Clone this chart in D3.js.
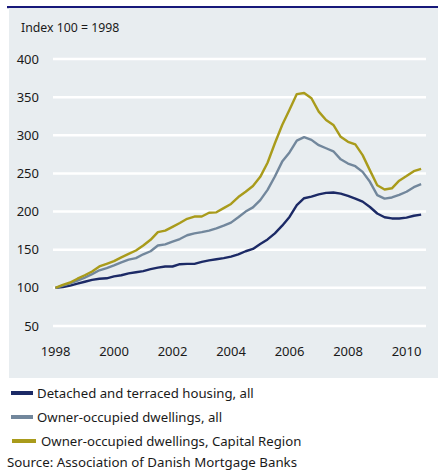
<!DOCTYPE html>
<html>
<head>
<meta charset="utf-8">
<script src="https://cdn.jsdelivr.net/npm/d3@7"></script>
<style>
  body { margin: 0; background: #fff; }
  svg text { font-family: "Noto Sans", sans-serif; fill: #1a1a1a; }
</style>
</head>
<body>
<div id="chart"></div>
<script>
// quarterly index values, 1998 Q1 .. 2010 Q3
const startYear = 1998;
const detached = [100, 101, 103, 105.5, 108, 110.5, 112, 112.5, 115, 116.5, 119, 120.5, 122, 124.5, 126.5, 128, 128,
  131, 131.5, 131.5, 134, 136, 137.5, 139, 141, 144, 148, 151, 157.5, 163.5, 171.5, 181.5, 193, 208.5, 217.5,
  219.5, 222.5, 224.5, 225, 223.5, 220.5, 217, 213, 206, 197.5, 192.5, 191, 191, 192, 194.5, 196];
const ownerAll = [100, 103, 106, 109.5, 113.5, 118, 123, 126, 129.5, 133.5, 137, 139, 144, 148, 155.5, 157, 160.5,
  164, 169, 171.5, 173, 175, 178, 181.5, 185.5, 192.5, 200, 205.5, 215, 228.5, 246, 265.5, 277.5, 293, 297.5,
  294, 287, 283, 279, 268.5, 263, 259.5, 252, 239, 221.5, 217, 218.5, 222, 226, 232, 236];
const ownerCapital = [100, 104, 107, 112, 116.5, 121.5, 128, 131.5, 135, 140, 144.5, 149, 155.5, 163, 173, 175, 180,
  185, 190.5, 193.5, 193.5, 198.5, 199, 204.5, 210, 219, 226, 233.5, 245.5, 264, 289.5, 313.5, 333.5, 354, 355.5,
  348.5, 331, 320, 313.5, 298, 291.5, 288, 274, 254, 234.5, 229, 230.5, 240.5, 246.5, 253, 256];

const yTicks = [50, 100, 150, 200, 250, 300, 350, 400];
const xTicks = [1998, 2000, 2002, 2004, 2006, 2008, 2010];
const seriesNames = ["Detached and terraced housing, all", "Owner-occupied dwellings, all", "Owner-occupied dwellings, Capital Region"];
const seriesColors = ["#1c2a66", "#72879c", "#a99b1b"];

const series = [detached, ownerAll, ownerCapital].map((vals, k) => ({
  name: seriesNames[k],
  color: seriesColors[k],
  values: vals.map((v, i) => ({ t: startYear + i / 4, v: v }))
}));

const svg = d3.select("#chart").append("svg")
  .attr("width", 438)
  .attr("height", 470);

// panel
svg.append("rect").attr("x", 7).attr("y", 6).attr("width", 431).attr("height", 2.2).attr("fill", "#17197a");
svg.append("rect").attr("x", 9).attr("y", 8).attr("width", 429).attr("height", 370).attr("fill", "#e8edf0");

const x = d3.scaleLinear().domain([1998, 2010]).range([55.5, 406.5]);
const y = d3.scaleLinear().domain([50, 400]).range([326, 59]);

svg.append("text")
  .attr("x", 21).attr("y", 32)
  .style("font-size", "12.3px")
  .text("Index 100 = 1998");

// gridlines + y labels
const yAxis = svg.append("g");
yAxis.selectAll("line").data(yTicks).enter().append("line")
  .attr("x1", 53).attr("x2", 426)
  .attr("y1", d => y(d)).attr("y2", d => y(d))
  .attr("stroke", "#fff").attr("stroke-width", 2.5);
yAxis.selectAll("text").data(yTicks).enter().append("text")
  .attr("x", 39).attr("y", d => y(d) + 4.5)
  .attr("text-anchor", "end")
  .style("font-size", "13px")
  .text(d => d);

svg.append("g").selectAll("text").data(xTicks).enter().append("text")
  .attr("x", d => x(d)).attr("y", 356)
  .attr("text-anchor", "middle")
  .style("font-size", "13px")
  .text(d => d);

const line = d3.line().x(d => x(d.t)).y(d => y(d.v));

svg.append("g").selectAll("path").data(series).enter().append("path")
  .attr("d", d => line(d.values))
  .attr("fill", "none")
  .attr("stroke", d => d.color)
  .attr("stroke-width", 2.4)
  .attr("stroke-linejoin", "round");

// legend
const legend = svg.append("g").selectAll("g").data(series).enter().append("g")
  .attr("transform", (d, i) => `translate(0,${393 + i * 24})`);
legend.append("rect")
  .attr("x", (d, i) => i === 2 ? 12 : 11).attr("y", -2)
  .attr("width", (d, i) => i === 2 ? 24 : 22).attr("height", 4)
  .attr("fill", d => d.color);
legend.append("text")
  .attr("x", (d, i) => i === 2 ? 41 : 37).attr("y", 4.8)
  .style("font-size", "13.2px")
  .text(d => d.name);

svg.append("text")
  .attr("x", 7).attr("y", 467)
  .style("font-size", "13.3px")
  .text("Source: Association of Danish Mortgage Banks");
</script>
</body>
</html>
